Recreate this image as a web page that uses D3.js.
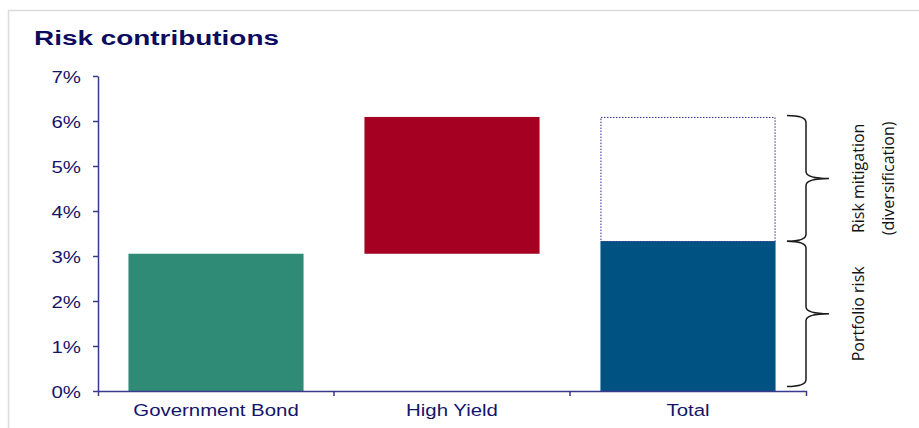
<!DOCTYPE html>
<html>
<head>
<meta charset="utf-8">
<script src="https://cdn.jsdelivr.net/npm/d3@7"></script>
<style>
  body { margin: 0; background: #fff; }
  svg { display: block; }
  .lbl { font-family: "Liberation Sans", Arial, sans-serif; fill: #14146b; }
  .note { font-family: "Open Sans", sans-serif; fill: #111; font-size: 16px; }
</style>
</head>
<body>
<div id="chart"></div>
<script>
// data (percent)
var categories = ["Government Bond", "High Yield", "Total"];
var barStart = [0, 3.05, 0];
var barEnd = [3.05, 6.09, 3.33];
var barColors = ["#2f8b76", "#a50021", "#005282"];
var yTicks = [0, 1, 2, 3, 4, 5, 6, 7];
var mitigation = [3.33, 6.09];    // dotted box on the Total bar
var braces = [
  { from: 3.33, to: 6.12, label: ["Risk mitigation", "(diversification)"] },
  { from: 0.1, to: 3.33, label: ["Portfolio risk"] }
];

var W = 919, H = 428;
var sx = 1.2;   // text in the original is a bit stretched sideways

var svg = d3.select("#chart").append("svg")
    .attr("width", W)
    .attr("height", H);

// light frame
svg.append("rect")
    .attr("x", 8.5).attr("y", 10.5)
    .attr("width", W + 20).attr("height", H + 20)
    .attr("fill", "none")
    .attr("stroke", "#dcdcdc")
    .attr("stroke-width", 1.5);

function stretchedText(g, x, y, str, size, anchor, weight, k) {
  return g.append("text")
      .attr("class", "lbl")
      .attr("transform", "translate(" + x + "," + y + ") scale(" + (k || sx) + ",1)")
      .attr("text-anchor", anchor)
      .attr("font-size", size)
      .attr("font-weight", weight || "normal")
      .text(str);
}

stretchedText(svg, 34, 45, "Risk contributions", 21, "start", "bold", 1.33)
    .style("fill", "#0c0c5e");

var y = d3.scaleLinear().domain([0, 7]).range([391, 76]);
var x = d3.scaleBand().domain(categories).range([98, 806])
    .paddingInner(0.258).paddingOuter(0.129);

var axisColor = "#3a3a8c";

// bars
svg.selectAll(".bar")
    .data(categories)
  .enter().append("rect")
    .attr("class", "bar")
    .attr("x", function(d) { return x(d); })
    .attr("width", x.bandwidth())
    .attr("y", function(d, i) { return y(barEnd[i]); })
    .attr("height", function(d, i) { return y(barStart[i]) - y(barEnd[i]); })
    .attr("fill", function(d, i) { return barColors[i]; });

// dotted mitigation box
svg.append("rect")
    .attr("x", x("Total") + 0.5)
    .attr("y", y(mitigation[1]) + 0.5)
    .attr("width", x.bandwidth() - 1)
    .attr("height", y(mitigation[0]) - y(mitigation[1]))
    .attr("fill", "none")
    .attr("stroke", "#2a2a90")
    .attr("stroke-width", 1)
    .attr("stroke-dasharray", "1.5,1.5");

// y axis
var yAxis = svg.append("g")
    .attr("transform", "translate(98,0)")
    .call(d3.axisLeft(y).tickValues(yTicks).tickSize(5).tickSizeOuter(0).tickPadding(12)
        .tickFormat(function(d) { return d + "%"; }));
yAxis.selectAll("path, line").attr("stroke", axisColor).attr("stroke-width", 1.5);
yAxis.selectAll("text").remove();
yAxis.selectAll(".tick").each(function(d) {
  stretchedText(d3.select(this), -17, 6, d + "%", 17, "end");
});

// x axis
var xAxis = svg.append("g")
    .attr("transform", "translate(0,391)")
    .call(d3.axisBottom(x).tickSize(0).tickSizeOuter(5));
xAxis.select(".domain").attr("stroke", axisColor).attr("stroke-width", 1.5);
xAxis.selectAll("text").remove();
xAxis.selectAll(".tick").each(function(d) {
  stretchedText(d3.select(this), 0, 25, d, 17, "middle");
});
// category separators
xAxis.selectAll(".sep")
    .data(categories.slice(1))
  .enter().append("line")
    .attr("x1", function(d) { return x(d) - x.step() * x.paddingInner() / 2; })
    .attr("x2", function(d) { return x(d) - x.step() * x.paddingInner() / 2; })
    .attr("y1", 0).attr("y2", 5)
    .attr("stroke", axisColor).attr("stroke-width", 1.5);

// braces on the right of Total
function bracePath(y0, y1) {
  var xl = 787, xs = 806, xt = 829, r = 7;
  var ym = (y0 + y1) / 2;
  return "M" + xl + "," + y0 +
    " Q" + xs + "," + y0 + " " + xs + "," + (y0 + r) +
    " L" + xs + "," + (ym - r) +
    " Q" + xs + "," + ym + " " + xt + "," + ym +
    " Q" + xs + "," + ym + " " + xs + "," + (ym + r) +
    " L" + xs + "," + (y1 - r) +
    " Q" + xs + "," + y1 + " " + xl + "," + y1;
}

braces.forEach(function(b) {
  var y0 = y(b.to), y1 = y(b.from);
  svg.append("path")
      .attr("d", bracePath(y0, y1))
      .attr("fill", "none")
      .attr("stroke", "#1a1a1a")
      .attr("stroke-width", 1.5);
  var t = svg.append("text")
      .attr("class", "note")
      .attr("text-anchor", "middle")
      .attr("transform", "translate(864," + ((y0 + y1) / 2) + ") rotate(-90)");
  b.label.forEach(function(line, i) {
    t.append("tspan").attr("x", 0).attr("dy", i === 0 ? 0 : 30).text(line);
  });
});
</script>
</body>
</html>
